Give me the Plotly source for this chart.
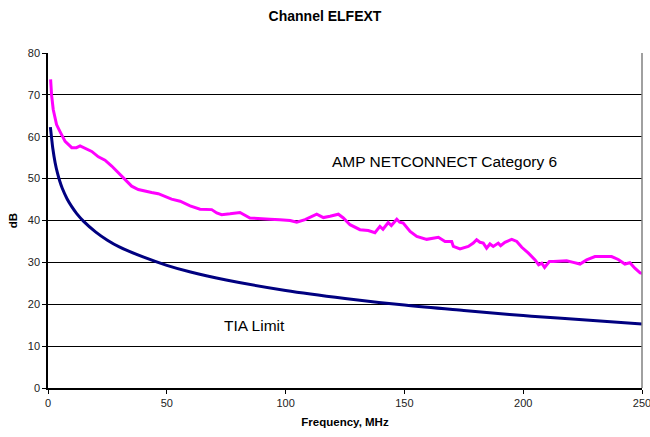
import plotly.graph_objects as go

# Measured channel ELFEXT, AMP NETCONNECT Category 6 (frequency MHz, dB)
amp_freq = [1.1, 1.5, 2.2, 3.6, 5.0, 7.2, 10.0, 12.0, 13.5, 15.6, 18.4, 21.2, 24.0, 26.8,
            29.6, 32.4, 35.2, 38.0, 40.8, 43.6, 46.4, 49.2, 52.0, 55.6, 59.8, 64.0, 68.9,
            71.0, 73.1, 76.6, 80.8, 85.0, 89.2, 93.4, 97.6, 101.9, 104.7, 108.2, 113.1,
            115.9, 118.7, 122.2, 124.3, 127.1, 131.3, 134.8, 137.6, 139.7, 141.0, 143.2,
            144.5, 146.8, 148.0, 149.5, 152.4, 155.2, 159.4, 164.3, 167.1, 169.9, 170.6,
            173.4, 176.9, 179.0, 180.4, 181.8, 183.2, 184.6, 186.0, 187.4, 189.5, 190.5,
            192.3, 195.2, 197.3, 199.4, 202.2, 205.0, 206.5, 207.8, 209.0, 209.9, 211.0,
            212.7, 216.2, 218.3, 221.1, 223.9, 226.7, 230.2, 233.7, 237.2, 240.0, 242.8,
            244.9, 247.0, 249.2, 250.0]
amp_db = [73.7, 70.0, 66.5, 62.9, 61.3, 58.9, 57.4, 57.4, 57.8, 57.2, 56.5, 55.2, 54.4, 53.0,
          51.4, 49.8, 48.2, 47.4, 47.0, 46.7, 46.4, 45.8, 45.1, 44.6, 43.5, 42.7, 42.6,
          41.8, 41.4, 41.6, 41.9, 40.6, 40.4, 40.3, 40.2, 40.0, 39.6, 40.2, 41.5,
          40.7, 41.0, 41.5, 40.6, 39.0, 37.8, 37.6, 37.1, 38.6, 37.9, 39.5,
          38.8, 40.3, 39.6, 39.4, 37.4, 36.2, 35.5, 36.0, 35.0, 35.0, 33.8,
          33.2, 33.8, 34.6, 35.4, 34.8, 34.6, 33.4, 34.4, 33.8, 34.6, 34.0,
          34.8, 35.5, 35.0, 33.6, 32.2, 30.6, 29.4, 29.8, 28.8, 29.4, 30.2,
          30.2, 30.4, 30.4, 30.0, 29.6, 30.6, 31.4, 31.4, 31.4, 30.7, 29.6,
          29.9, 28.6, 27.5, 27.4]

# TIA channel ELFEXT limit (frequency MHz, dB)
tia_freq = [1, 1.5, 2, 3, 4, 5, 6, 8, 10, 12, 15, 20, 25, 30, 40, 50, 60, 75,
            100, 125, 150, 175, 200, 225, 250]
tia_db = [62.3, 59.8, 57.3, 53.8, 51.3, 49.3, 47.7, 45.2, 43.3, 41.7, 39.8, 37.3, 35.3,
          33.7, 31.3, 29.3, 27.7, 25.8, 23.3, 21.4, 19.8, 18.5, 17.3, 16.3, 15.3]

x_ticks = [0, 50, 100, 150, 200, 250]
y_ticks = [0, 10, 20, 30, 40, 50, 60, 70, 80]

font_family = "Liberation Sans, Arial, sans-serif"

fig = go.Figure()
fig.add_trace(go.Scatter(x=tia_freq, y=tia_db, mode="lines", line_shape="spline",
                         line=dict(color="#000080", width=3), showlegend=False))
fig.add_trace(go.Scatter(x=amp_freq, y=amp_db, mode="lines",
                         line=dict(color="#FF00FF", width=3), showlegend=False))

fig.add_annotation(x=167, y=54.2, text="AMP NETCONNECT Category 6", showarrow=False,
                   font=dict(size=15.5, color="#000000", family=font_family))
fig.add_annotation(x=87, y=15.0, text="TIA Limit", showarrow=False,
                   font=dict(size=15.5, color="#000000", family=font_family))

# right-hand plot border
fig.add_shape(type="line", xref="paper", yref="paper", x0=1, x1=1, y0=0, y1=1,
              line=dict(color="#808080", width=1.5))

fig.update_layout(
    width=650, height=437,
    margin=dict(l=48, r=8, t=53, b=49, autoexpand=False),
    paper_bgcolor="white", plot_bgcolor="white",
    font=dict(family=font_family, size=11, color="#000000"),
    title=dict(text="<b>Channel ELFEXT</b>", x=0.5, xanchor="center", y=0.963,
               yanchor="middle", font=dict(size=14, family=font_family, color="#000000")),
    xaxis=dict(range=[0, 250], tickvals=x_ticks, ticks="outside", ticklen=4,
               tickcolor="#000000", showline=True, linecolor="#000000", linewidth=1.5,
               showgrid=False, zeroline=False, ticklabeloverflow="allow", automargin=False,
               tickfont=dict(size=11, color="#222222"),
               title=dict(text="<b>Frequency, MHz</b>", standoff=10,
                          font=dict(size=11.5, color="#000000"))),
    yaxis=dict(range=[0, 80], tickvals=y_ticks, ticks="outside", ticklen=4,
               tickcolor="#000000", showline=True, linecolor="#000000", linewidth=1.5,
               showgrid=True, gridcolor="#000000", gridwidth=1, zeroline=False,
               automargin=False,
               tickfont=dict(size=11, color="#222222"),
               title=dict(text="<b>dB</b>", standoff=8,
                          font=dict(size=11.5, color="#000000"))),
)

fig.write_html("out.html")
